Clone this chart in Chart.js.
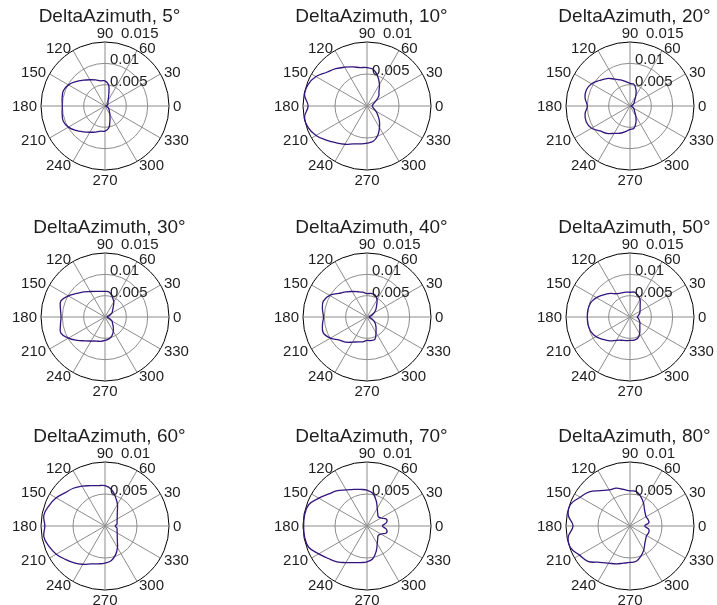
<!DOCTYPE html>
<html>
<head>
<meta charset="utf-8">
<script src="https://cdn.jsdelivr.net/npm/chart.js@4.4.1/dist/chart.umd.min.js"></script>
<style>
  html, body { margin: 0; padding: 0; background: #fff; }
  #grid { position: relative; width: 717px; height: 605px; overflow: hidden; background: #fff; }
  #grid canvas { position: absolute; }
</style>
</head>
<body>
<div id="grid"></div>
<script>
// angles of the samples, degrees counter-clockwise from east
const ANGLES = [0, 10, 20, 30, 40, 50, 60, 70, 80, 90, 100, 110, 120, 130, 140, 150, 160, 170,
  180, 190, 200, 210, 220, 230, 240, 250, 260, 270, 280, 290, 300, 310, 320, 330, 340, 350];

const PANEL_TITLES = ['DeltaAzimuth, 5°', 'DeltaAzimuth, 10°', 'DeltaAzimuth, 20°',
  'DeltaAzimuth, 30°', 'DeltaAzimuth, 40°', 'DeltaAzimuth, 50°',
  'DeltaAzimuth, 60°', 'DeltaAzimuth, 70°', 'DeltaAzimuth, 80°'];
const PANEL_RMAX = [0.015, 0.01, 0.015, 0.015, 0.015, 0.015, 0.01, 0.01, 0.01];

const R_TICKS = [0.005, 0.01, 0.015];
const R_TICK_LABELS = ['0.005', '0.01', '0.015'];

const DA05 = [0.00016, 0.0003, 0.00055, 0.0008, 0.0009, 0.0011, 0.0014, 0.0025, 0.005, 0.0059, 0.006, 0.0065,
  0.0071, 0.0079, 0.0089, 0.0099, 0.0104, 0.0102, 0.01, 0.0102, 0.0104, 0.0099, 0.0089, 0.0079,
  0.0071, 0.0065, 0.006, 0.0059, 0.0052, 0.0034, 0.0023, 0.0016, 0.0012, 0.0009, 0.00055, 0.0003];
const DA10 = [0.0008, 0.0009, 0.0011, 0.0016, 0.0024, 0.0029, 0.0039, 0.0049, 0.0058, 0.006, 0.0061, 0.0065,
  0.007, 0.0076, 0.0082, 0.0092, 0.0098, 0.0099, 0.0092, 0.0099, 0.0098, 0.0092, 0.0083, 0.0075,
  0.0069, 0.0063, 0.006, 0.0058, 0.0056, 0.0049, 0.0039, 0.003, 0.0022, 0.0016, 0.0011, 0.0009];
const DA20 = [0.0002, 0.0004, 0.0006, 0.0009, 0.0013, 0.0017, 0.0027, 0.0041, 0.0052, 0.0053, 0.0058, 0.0065,
  0.0073, 0.0084, 0.0093, 0.0104, 0.0109, 0.0107, 0.01, 0.0107, 0.0109, 0.0104, 0.0091, 0.0084,
  0.0074, 0.0068, 0.0061, 0.0055, 0.0053, 0.0041, 0.0027, 0.0017, 0.0013, 0.0009, 0.0006, 0.0004];
const DA30 = [0.0005, 0.0007, 0.0012, 0.0019, 0.0023, 0.003, 0.0041, 0.005, 0.0059, 0.006, 0.0061, 0.0064,
  0.0069, 0.0077, 0.0086, 0.0099, 0.011, 0.0106, 0.0103, 0.0106, 0.011, 0.0099, 0.0085, 0.0073,
  0.0065, 0.006, 0.0058, 0.0055, 0.0052, 0.0047, 0.0039, 0.003, 0.0023, 0.0019, 0.0012, 0.0007];
const DA40 = [0.0005, 0.0007, 0.0012, 0.0019, 0.0027, 0.0035, 0.0047, 0.0055, 0.0056, 0.0055, 0.0059, 0.0063,
  0.0069, 0.0077, 0.0086, 0.0101, 0.0109, 0.0106, 0.0102, 0.0106, 0.0109, 0.0099, 0.0084, 0.0077,
  0.0068, 0.0062, 0.0059, 0.0055, 0.0056, 0.0055, 0.0042, 0.0033, 0.0026, 0.0019, 0.0012, 0.0007];
const DA50 = [0.0017, 0.002, 0.0024, 0.0027, 0.0031, 0.0037, 0.0047, 0.0054, 0.0059, 0.0058, 0.0059, 0.006,
  0.0063, 0.0072, 0.0081, 0.0091, 0.0098, 0.01, 0.01, 0.01, 0.0098, 0.0092, 0.0082, 0.0073,
  0.0063, 0.0058, 0.0056, 0.0055, 0.0055, 0.0053, 0.0045, 0.0036, 0.003, 0.0027, 0.0023, 0.002];
const DA60 = [0.0016, 0.0019, 0.002, 0.0022, 0.0025, 0.003, 0.0039, 0.0048, 0.0058, 0.0063, 0.0064, 0.0067,
  0.0072, 0.0077, 0.0081, 0.0088, 0.0093, 0.0097, 0.0094, 0.0097, 0.0093, 0.0088, 0.0081, 0.0075,
  0.0069, 0.0063, 0.006, 0.0058, 0.0055, 0.0048, 0.0039, 0.003, 0.0025, 0.0022, 0.002, 0.0019];
const DA70 = [0.0024, 0.0031, 0.0032, 0.0025, 0.0023, 0.0026, 0.0032, 0.0042, 0.0052, 0.0056, 0.0058, 0.0061,
  0.0065, 0.0072, 0.0078, 0.0087, 0.0097, 0.0099, 0.0099, 0.0099, 0.0097, 0.0087, 0.0079, 0.0073,
  0.0066, 0.0061, 0.0058, 0.0056, 0.0052, 0.0042, 0.0032, 0.0026, 0.0023, 0.0025, 0.0032, 0.0031];
const DA80 = [0.0023, 0.003, 0.003, 0.0029, 0.0031, 0.0035, 0.0042, 0.0049, 0.0055, 0.0055, 0.0058, 0.0063,
  0.0065, 0.0072, 0.0083, 0.009, 0.0099, 0.0098, 0.0089, 0.0098, 0.0099, 0.0091, 0.0086, 0.0074,
  0.0067, 0.0063, 0.0059, 0.0057, 0.0056, 0.005, 0.0043, 0.0036, 0.0032, 0.003, 0.0031, 0.003];

const PANEL_SERIES = [DA05, DA10, DA20, DA30, DA40, DA50, DA60, DA70, DA80];

// page layout: circle centres of the 3x3 grid
const COL_X = [105, 367, 630];
const ROW_Y = [106, 317, 526];
const RADIUS = 64;
const CANVAS_W = 240, CANVAS_H = 200;

const FONT = '"Liberation Sans", Arial, Helvetica, sans-serif';
const TEXT_COLOR = '#1e1e1e';
const GRID_COLOR = '#8c8c8c';
const LINE_COLOR = '#33157c';

// radar draws index 0 at east and then goes clockwise, so walk the angles backwards
const order = ANGLES.map((a, i) => (ANGLES.length - i) % ANGLES.length);

// titles, angle labels and radius labels in the old polar() style
const polarText = {
  id: 'polarText',
  afterDraw(chart, args, opts) {
    const scale = chart.scales.r;
    const ctx = chart.ctx;
    const cx = scale.xCenter, cy = scale.yCenter, R = scale.drawingArea;
    ctx.save();
    ctx.fillStyle = TEXT_COLOR;
    ctx.textBaseline = 'alphabetic';

    ctx.font = '19px ' + FONT;
    ctx.textAlign = 'center';
    ctx.fillText(opts.title, cx + 4.5, cy - 84);

    ctx.font = '15px ' + FONT;
    const half = 5.4;
    chart.data.labels.forEach((lab, i) => {
      const a = Number(lab);
      if (a % 30 !== 0) return;
      const p = scale.getPointPosition(i, R + 4);
      if (a === 90) {
        ctx.textAlign = 'center';
        ctx.fillText(lab, p.x, p.y - 0.5);
      } else if (a === 270) {
        ctx.textAlign = 'center';
        ctx.fillText(lab, p.x, p.y + 10.5);
      } else {
        ctx.textAlign = (a < 90 || a > 270) ? 'left' : 'right';
        ctx.fillText(lab, p.x, p.y + half);
      }
    });

    ctx.textAlign = 'left';
    R_TICKS.forEach((v, i) => {
      if (v > scale.max + 1e-9) return;
      if (Math.abs(v - scale.max) < 1e-9) {
        ctx.fillText(R_TICK_LABELS[i], cx + 16, cy - R - 4.5);
      } else {
        const d = scale.getDistanceFromCenterForValue(v);
        ctx.fillText(R_TICK_LABELS[i], cx + 5, cy - d + 1);
      }
    });
    ctx.restore();
  }
};

const grid = document.getElementById('grid');

PANEL_SERIES.forEach((series, k) => {
  const cx = COL_X[k % 3], cy = ROW_Y[Math.floor(k / 3)];
  const canvas = document.createElement('canvas');
  canvas.width = CANVAS_W;
  canvas.height = CANVAS_H;
  canvas.style.left = (cx - CANVAS_W / 2) + 'px';
  canvas.style.top = (cy - 106) + 'px';
  grid.appendChild(canvas);

  const labels = order.map(j => String(ANGLES[j]));
  const values = order.map(j => series[j]);

  new Chart(canvas, {
    type: 'radar',
    data: {
      labels: labels,
      datasets: [{
        data: values,
        borderColor: LINE_COLOR,
        borderWidth: 1.3,
        pointRadius: 0,
        pointHoverRadius: 0,
        fill: false,
        tension: 0.4
      }]
    },
    options: {
      responsive: false,
      animation: false,
      events: [],
      elements: { line: { capBezierPoints: false } },
      layout: {
        padding: {
          left: CANVAS_W / 2 - RADIUS,
          right: CANVAS_W / 2 - RADIUS,
          top: 106 - RADIUS,
          bottom: CANVAS_H - 106 - RADIUS
        }
      },
      plugins: {
        legend: { display: false },
        tooltip: { enabled: false },
        polarText: { title: PANEL_TITLES[k] }
      },
      scales: {
        r: {
          min: 0,
          max: PANEL_RMAX[k],
          startAngle: 90,
          ticks: { display: false, stepSize: 0.005 },
          pointLabels: { display: false },
          grid: {
            circular: true,
            lineWidth: 1,
            color: (c) => (c.tick && Math.abs(c.tick.value - c.scale.max) < 1e-9) ? '#000' : GRID_COLOR
          },
          angleLines: {
            color: GRID_COLOR,
            lineWidth: (c) => (Number(c.label) % 30 === 0 ? 1 : 0)
          }
        }
      }
    },
    plugins: [polarText]
  });
});
</script>
</body>
</html>
